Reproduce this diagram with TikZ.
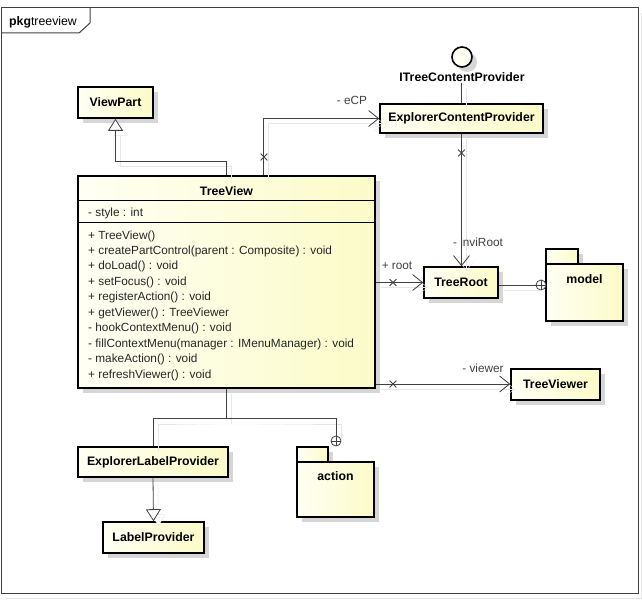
\documentclass[tikz,border=0pt]{standalone}
\usepackage{fontspec}
\setmainfont{Liberation Sans}
\usetikzlibrary{arrows.meta,shapes.misc,shadows,calc}
\definecolor{creamL}{HTML}{FFFFF4}
\definecolor{creamR}{HTML}{FBFBC8}
\definecolor{lineC}{HTML}{404040}
\definecolor{shadowC}{HTML}{D6D6D6}
\definecolor{lshadowC}{HTML}{E6E6E6}
\tikzset{
  shad/.style={drop shadow={shadow xshift=5pt, shadow yshift=-5pt, fill=shadowC, opacity=1}},
  namefont/.style={font=\bfseries\fontsize{12.3}{14}\selectfont},
  cls/.style={draw, line width=1.6pt, left color=creamL, right color=creamR, shad,
    namefont, inner sep=0pt},
  pkgpart/.style={draw, line width=1.6pt, left color=creamL, right color=creamR, shad, inner sep=0pt},
  member/.style={anchor=west, inner sep=0pt, font=\fontsize{11.8}{13}\selectfont, text=black!85},
  lbl/.style={inner sep=0pt, font=\fontsize{11.8}{13}\selectfont, text=black!75},
  conn/.style={draw=lineC, line width=0.8pt,
    preaction={draw=lshadowC, transform canvas={xshift=5pt, yshift=-5pt}}},
  assocarr/.style={-{Straight Barb[length=10pt,width=16pt,line width=0.8pt]}},
  gen/.style={-{Triangle[open,fill=white,length=12pt,width=15pt,line width=0.8pt]}},
  xmark/.style={cross out, draw=lineC, line width=0.8pt, minimum size=6pt, inner sep=0pt},
  nest/.style={circle, draw=lineC, line width=0.8pt, fill=white, minimum size=10pt, inner sep=0pt},
}
\begin{document}
\begin{tikzpicture}[x=1pt,y=-1pt]
\useasboundingbox (0,0) rectangle (642,601);
% frame
\draw[lshadowC, line width=1pt] (6,598) -- (641,598) -- (641,13);
\draw[lineC, line width=1pt] (1,8) rectangle (638,593);
\draw[lineC, line width=1pt] (1,33) -- (79,33) -- (90,23) -- (90,8);
\node[anchor=west, inner sep=0pt, font=\fontsize{12.3}{14}\selectfont] (pkgname) at (9,22) {\textbf{pkg}treeview};

% classes
\node[cls, minimum width=75pt, minimum height=31pt] (vp) at (115.5,102.5) {ViewPart};
\node[cls, minimum width=163pt, minimum height=29pt] (ecp) at (461.5,118.5) {ExplorerContentProvider};
\node[cls, minimum width=74pt, minimum height=31pt] (tr) at (461,282.5) {TreeRoot};
\node[cls, minimum width=89pt, minimum height=31pt] (tvw) at (555.5,384.5) {TreeViewer};
\node[cls, minimum width=150pt, minimum height=30pt] (elp) at (153,462) {ExplorerLabelProvider};
\node[cls, minimum width=101pt, minimum height=31pt] (lp) at (153.5,537.5) {LabelProvider};

% TreeView
\node[cls, minimum width=297pt, minimum height=212pt] (tv) at (226.5,282) {};
\node[inner sep=0pt, namefont] (tvname) at (226.5,191) {TreeView};
\draw[line width=1pt] (tv.north west |- 0,201) -- (tv.north east |- 0,201);
\draw[line width=1pt] (tv.north west |- 0,223) -- (tv.north east |- 0,223);
\node[member] (a1) at (88,213) {- style : int};
\foreach \t [count=\i from 0] in {
  {+ TreeView()},
  {+ createPartControl(parent : Composite) : void},
  {+ doLoad() : void},
  {+ setFocus() : void},
  {+ registerAction() : void},
  {+ getViewer() : TreeViewer},
  {- hookContextMenu() : void},
  {- fillContextMenu(manager : IMenuManager) : void},
  {- makeAction() : void},
  {+ refreshViewer() : void}}
  \node[member] (op\i) at (88,236+15.45*\i) {\t};

% interface
\node[circle, draw, line width=1.6pt, minimum size=20pt, inner sep=0pt, fill=creamL, shad] (itcp) at (462,57) {};
\node[inner sep=1pt, namefont] (itcpl) at (462,77) {ITreeContentProvider};
\draw[conn] (itcpl.south -| ecp.north) -- (ecp.north);

% packages
\node[pkgpart, minimum width=32pt, minimum height=15pt] (modeltab) at (562,256.5) {};
\node[pkgpart, minimum width=77pt, minimum height=57pt] (model) at (584.5,292.5) {};
\node[inner sep=0pt, namefont] (modell) at (584.5,279) {model};
\node[pkgpart, minimum width=31pt, minimum height=15pt] (actiontab) at (312.5,454.5) {};
\node[pkgpart, minimum width=77pt, minimum height=55pt] (action) at (335.5,489.5) {};
\node[inner sep=0pt, namefont] (actionl) at (335.5,476) {action};

% connectors
\draw[conn, gen] (tv.north) -- ++(0,-14) -| (vp.south);
\coordinate (tvE) at ($(tv.north west)+(186,0)$);
\draw[conn, assocarr] (tvE) |- (ecp.west);
\node[xmark] (x1) at (264,157) {};
\node[lbl] (l1) at (352,100) {- eCP};

\draw[conn, assocarr] (ecp.south) -- (ecp.south |- tr.north);
\node[xmark] (x2) at (461.5,153) {};
\node[lbl] (l2) at (478,242) {- inviRoot};

\draw[conn, assocarr] (tv.east |- tr.west) -- (tr.west);
\node[xmark] (x3) at (393,282.5) {};
\node[lbl] (l3) at (397,266) {+ root};

\coordinate (tvv) at (tv.east |- 0,384);
\draw[conn, assocarr] (tvv) -- (tvw.west |- tvv);
\node[xmark] (x4) at (393,384) {};
\node[lbl] (l4) at (483,368) {- viewer};

% nesting circles
\node[nest] (n1) at (541,285) {};
\draw[lineC, line width=0.8pt] (n1.north) -- (n1.south) (n1.west) -- (n1.east);
\node[nest] (n2) at (336,441) {};
\draw[lineC, line width=0.8pt] (n2.north) -- (n2.south) (n2.west) -- (n2.east);

\draw[conn] (tr.east |- n1) -- (n1.west);

\coordinate (j) at ($(tv.south)+(0,30)$);
\draw[conn] (tv.south) -- (j);
\draw[conn] (elp.north) |- (j) -| (n2.north);
\draw[conn, gen] (elp.south) -- (lp.north);
\end{tikzpicture}
\end{document}
